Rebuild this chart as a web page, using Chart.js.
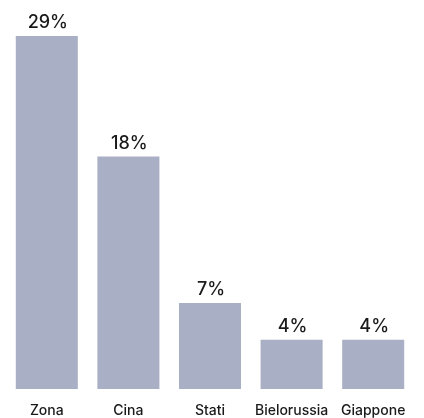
<!DOCTYPE html>
<html>
<head>
<meta charset="utf-8">
<script src="https://cdn.jsdelivr.net/npm/chart.js@4"></script>
<style>
html,body{margin:0;padding:0;background:#fff;}
#wrap{width:424px;height:418px;position:relative;}
</style>
</head>
<body>
<div id="wrap"><canvas id="c"></canvas></div>
<script>
const categories = ["Zona", "Cina", "Stati", "Bielorussia", "Giappone"];
const values = [28.7, 18.9, 7.0, 4.0, 4.0];
const valueLabels = ["29%", "18%", "7%", "4%", "4%"];

const labelPlugin = {
  id: 'labels',
  afterDatasetsDraw(chart) {
    const ctx = chart.ctx;
    const meta = chart.getDatasetMeta(0);
    const xs = chart.scales.x;
    ctx.save();
    ctx.fillStyle = '#1a1a1a';
    ctx.textAlign = 'center';
    ctx.textBaseline = 'alphabetic';
    ctx.font = '500 18px Inter';
    meta.data.forEach((bar, i) => {
      ctx.fillText(valueLabels[i], bar.x + 1, bar.y - 8);
    });
    ctx.font = '500 14px Inter';
    categories.forEach((c, i) => {
      ctx.fillText(c, xs.getPixelForValue(i), 415);
    });
    ctx.restore();
  }
};

new Chart(document.getElementById('c'), {
  type: 'bar',
  data: {
    labels: categories,
    datasets: [{
      data: values,
      backgroundColor: '#a9afc4',
      borderWidth: 0,
      categoryPercentage: 1,
      barPercentage: 0.76
    }]
  },
  options: {
    responsive: true,
    maintainAspectRatio: false,
    animation: false,
    layout: { padding: { left: 6, right: 10, top: 20, bottom: 29 } },
    plugins: { legend: { display: false }, tooltip: { enabled: false } },
    scales: {
      x: { display: false },
      y: { display: false, min: 0, max: 30 }
    }
  },
  plugins: [labelPlugin]
});
</script>
</body>
</html>
